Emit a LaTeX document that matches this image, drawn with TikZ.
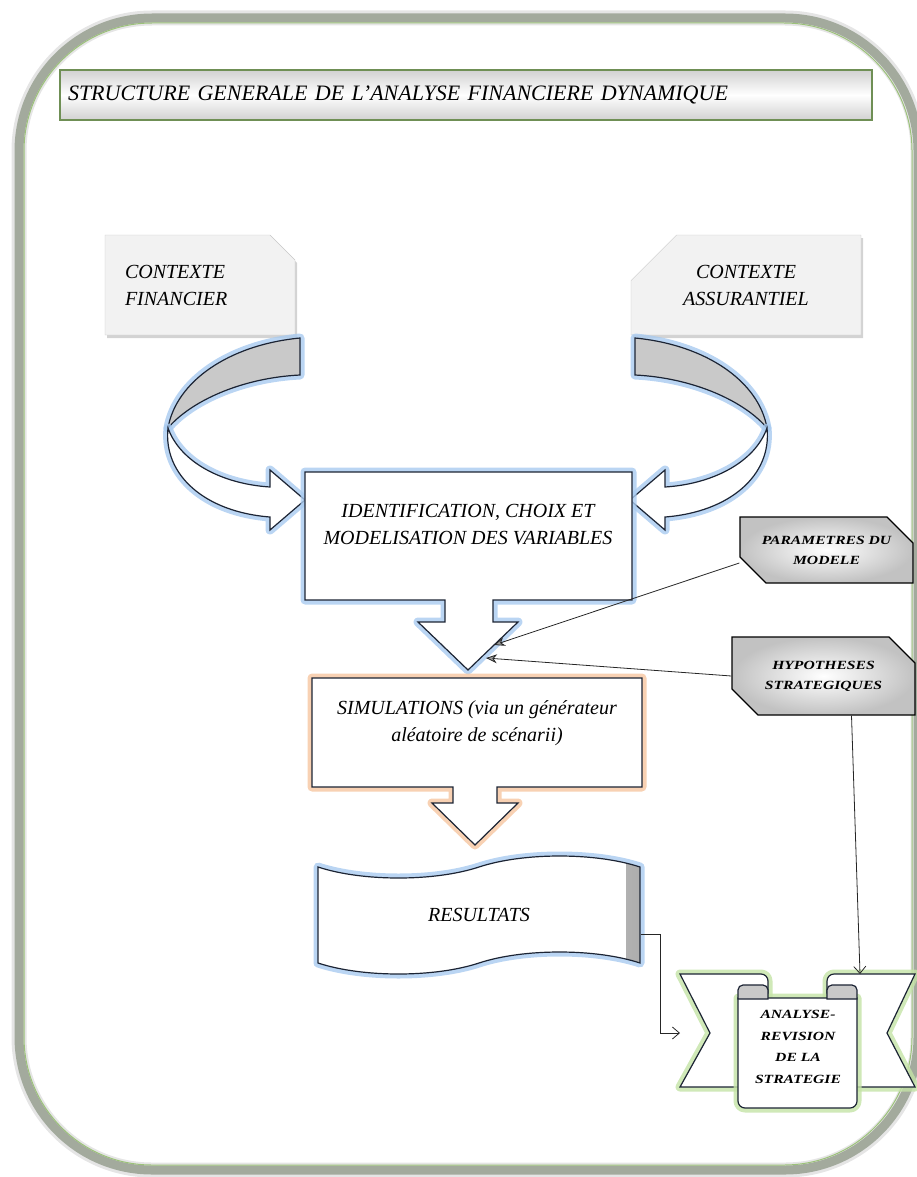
\documentclass[tikz,border=0pt]{standalone}
\usepackage{fontspec}
\setmainfont{Liberation Serif}
\newfontfamily\widefont[FakeStretch=1.25]{Liberation Serif}
\usetikzlibrary{arrows.meta,shapes.misc,shapes.symbols,shadows}
\definecolor{frameGray}{HTML}{939C8C}
\definecolor{frameGreen}{HTML}{9CC27A}
\definecolor{titleGreen}{HTML}{6F8F55}
\definecolor{outline}{HTML}{1C2434}
\definecolor{glowBlue}{HTML}{A9CBF0}
\definecolor{glowOrange}{HTML}{F6C6A0}
\definecolor{glowGreen}{HTML}{C4E3A6}
\definecolor{foldGray}{HTML}{C9C9C9}
\tikzset{
  bigtext/.style={font=\fontsize{20}{27}\selectfont\itshape, align=center},
  smalltext/.style={font=\widefont\fontsize{12.5}{20}\selectfont\bfseries\itshape, align=center},
  glow/.style={preaction={draw=#1, line width=9pt, opacity=0.8, line join=round}},
  outl/.style={draw=outline, line width=1.2pt},
  titlebox/.style={draw=titleGreen, line width=1.2pt, top color=black!18, bottom color=black!18, middle color=white,
    minimum width=812pt, minimum height=50pt, text width=796pt, inner xsep=8pt, align=left,
    font=\fontsize{22}{25}\selectfont\itshape},
  ctxbox/.style={chamfered rectangle, draw=black!22, fill=black!5,
    drop shadow={opacity=0.35, shadow xshift=2pt, shadow yshift=-3pt}, minimum height=100pt, bigtext},
  sidebox/.style={chamfered rectangle, chamfered rectangle corners={north east, south west},
    chamfered rectangle xsep=13pt, chamfered rectangle ysep=13pt, draw=black, line width=1.3pt,
    inner color=white, outer color=black!24, smalltext},
  conn/.style={draw=black!85, line width=0.8pt, -{Straight Barb[length=7pt, width=12pt]}},
  connf/.style={draw=black!85, line width=0.8pt, -{Stealth[length=11pt, width=9pt, fill=black!40]}},
  pics/turnarrow/.style={code={
    \filldraw[glow=glowBlue, outl, fill=foldGray] (300,338) .. controls (228,345) and (176,382) .. (168,428)
      .. controls (190,402) and (240,378) .. (300,375) -- cycle;
    \filldraw[glow=glowBlue, outl, fill=white] (168,428) .. controls (180,462) and (222,484) .. (270,487)
      -- (270,470) -- (305,500) -- (270,530) -- (270,517) .. controls (205,512) and (163,475) .. (168,428) -- cycle;
  }}
}
\begin{document}
\begin{tikzpicture}[x=1pt, y=-1pt]
\useasboundingbox (0,0) rectangle (916,1177);
\draw[frameGray, line width=9pt, rounded corners=133pt, opacity=0.8,
  preaction={draw=black!10, line width=15pt}] (19,18) rectangle (918,1170);
\draw[frameGreen, line width=1pt, rounded corners=128pt] (24,23) rectangle (912,1165);

\node[titlebox] (title) at (466,95) {STRUCTURE GENERALE DE L'ANALYSE FINANCIERE DYNAMIQUE};

\node[ctxbox, chamfered rectangle corners=north east, chamfered rectangle xsep=10pt, chamfered rectangle ysep=15pt,
  minimum width=190pt, text width=150pt, align=left] (cfin) at (200,285) {CONTEXTE\\FINANCIER};
\node[ctxbox, chamfered rectangle corners=north west, chamfered rectangle xsep=38pt, chamfered rectangle ysep=22pt,
  minimum width=230pt] (cass) at (746,285) {CONTEXTE\\ASSURANTIEL};

\pic at (0,0) {turnarrow};
\pic[xscale=-1] at (935,0) {turnarrow};

\draw[glow=glowBlue, outl, fill=white] (305,472) -- (632,472) -- (632,600) -- (493,600) -- (493,622) -- (518,622)
  -- (468,670) -- (418,622) -- (445,622) -- (445,600) -- (305,600) -- cycle;
\node[bigtext] (ident) at (468,525) {IDENTIFICATION, CHOIX ET\\MODELISATION DES VARIABLES};
\coordinate (idtipA) at (494,645);
\coordinate (idtipB) at (486,658);

\draw[glow=glowOrange, outl, fill=white] (312,678) -- (642,678) -- (642,787) -- (497,787) -- (497,803) -- (518,803)
  -- (475,845) -- (432,803) -- (453,803) -- (453,787) -- (312,787) -- cycle;
\node[bigtext] (simul) at (477,723) {SIMULATIONS (via un générateur\\aléatoire de scénarii)};

\node[tape, tape bend top=in and out, tape bend bottom=in and out, tape bend height=22pt,
  glow=glowBlue, outl, fill=white, minimum width=322pt, minimum height=118pt, bigtext,
  path picture={\fill[left color=white, right color=black!32]
    ([xshift=-14pt]path picture bounding box.north east) rectangle (path picture bounding box.south east);}]
  (res) at (479,915) {RESULTATS};

\node[sidebox, minimum width=173pt, minimum height=66pt] (param) at (826.5,550) {PARAMETRES DU\\MODELE};
\node[sidebox, minimum width=183pt, minimum height=78pt] (hyp) at (823.5,676) {HYPOTHESES\\STRATEGIQUES};

\filldraw[glow=glowGreen, outl, fill=white] (750,1087) -- (680,1087) -- (710,1033) -- (680,974)
  [rounded corners=7pt]-- (768,974) [sharp corners]-- (768,997) -- (750,997) -- cycle;
\filldraw[glow=glowGreen, outl, fill=white] (845,1087) -- (915,1087) -- (887,1033) -- (915,974)
  [rounded corners=7pt]-- (827,974) [sharp corners]-- (827,997) -- (845,997) -- cycle;
\filldraw[glow=glowGreen, outl, fill=white] (738,998) [rounded corners=7pt]-- (738,1108) -- (857,1108)
  [sharp corners]-- (857,998) -- cycle;
\filldraw[outl, fill=foldGray, rounded corners=5pt] (738,999) -- (738,985) -- (768,985) [sharp corners]-- (768,999) -- cycle;
\filldraw[outl, fill=foldGray, rounded corners=5pt] (827,999) -- (827,985) -- (857,985) [sharp corners]-- (857,999) -- cycle;
\node[smalltext, font=\widefont\fontsize{12.5}{21.7}\selectfont\bfseries\itshape] (rev) at (798,1047)
  {ANALYSE-\\REVISION\\DE LA\\STRATEGIE};
\coordinate (revtop) at (860,974);
\coordinate (revleft) at (680,1033);

\draw[connf] ([yshift=-13pt]param.west) -- (idtipA);
\draw[connf] (hyp.west) -- (idtipB);
\draw[conn] ([xshift=28pt]hyp.south) -- (revtop);
\draw[conn] ([yshift=-19pt]res.east) -- ++(20,0) |- (revleft);
\end{tikzpicture}
\end{document}
